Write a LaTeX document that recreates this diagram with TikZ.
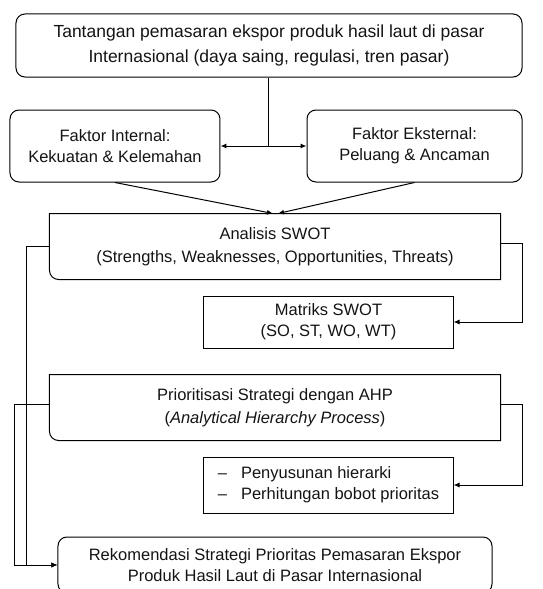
\documentclass[tikz,border=0pt]{standalone}
\usepackage{fontspec}
\setmainfont{Liberation Sans}
\usetikzlibrary{arrows.meta,positioning}

% frame with only two rounded corners (top left, bottom right)
\newcommand{\diagframe}[1]{%
  \draw (#1.north) [sharp corners] -- (#1.north east) -- (#1.south east)
    [rounded corners=9pt] -- (#1.south west)
    [sharp corners] -- (#1.north west)
    [rounded corners=9pt] -- (#1.north);}

\begin{document}
\begin{tikzpicture}[x=1pt,y=1pt,line width=1pt,on grid,
    font=\fontsize{16.5}{21}\selectfont,
    box/.style={align=center,inner sep=0pt,text=black!92},
    roundbox/.style={box,draw,rounded corners=9pt},
    plainbox/.style={box,draw,minimum width=249pt},
    halfbox/.style={box,minimum width=450pt,minimum height=65pt},
    link/.style={-{Latex[length=6pt,width=5pt]}}]
   \clip (-269,45.5) rectangle (274,-543.5);
   \node [roundbox,minimum width=506pt,minimum height=63pt,
          font=\fontsize{17.5}{25}\selectfont] (Tantangan)
         {Tantangan pemasaran ekspor produk hasil laut di pasar\\Internasional (daya saing, regulasi, tren pasar)};
   \node [roundbox,minimum width=210pt,minimum height=72pt] (Internal)
         [below left=100.5pt and 154pt of Tantangan] {Faktor Internal:\\Kekuatan \& Kelemahan};
   \node [roundbox,minimum width=215pt,minimum height=72pt] (Eksternal)
         [below right=100.5pt and 145.5pt of Tantangan] {Faktor Eksternal:\\Peluang \& Ancaman};
   \node [halfbox,font=\fontsize{16.5}{23}\selectfont] (SWOT)
         [below right=201pt and 6pt of Tantangan] {Analisis SWOT\\(Strengths, Weaknesses, Opportunities, Threats)};
   \node [plainbox,minimum height=52pt] (Matriks)
         [below right=75.5pt and 53.5pt of SWOT] {Matriks SWOT\\(SO, ST, WO, WT)};
   \node [halfbox,font=\fontsize{16.5}{23}\selectfont] (AHP)
         [below=161pt of SWOT] {Prioritisasi Strategi dengan AHP\\(\textit{Analytical Hierarchy Process})};
   \node [plainbox,minimum height=56pt] (Langkah)
         [below right=77.5pt and 53.5pt of AHP]
         {\begin{tabular}{@{}l@{\hspace{14pt}}l@{}}
            -- & Penyusunan hierarki\\
            -- & Perhitungan bobot prioritas
          \end{tabular}};
   \node [roundbox,minimum width=434pt,minimum height=56pt] (Rekomendasi)
         [below=157.5pt of AHP] {Rekomendasi Strategi Prioritas Pemasaran Ekspor\\Produk Hasil Laut di Pasar Internasional};
   \diagframe{SWOT}
   \diagframe{AHP}

   \draw (Tantangan.south) -- (Tantangan.south |- Internal.east) coordinate (Split);
   \draw [link] (Split) -- (Internal.east);
   \draw [link] (Split) -- (Eksternal.west);
   \draw [link] (Internal.south) -- ([xshift=-2pt]SWOT.north);
   \draw [link] (Eksternal.south) -- ([xshift=3pt]SWOT.north);
   \draw [link] ([yshift=3pt]SWOT.east) -- ++(22pt,0) |- (Matriks.east);
   \draw [link] ([yshift=3pt]AHP.east) -- ++(22pt,0) |- (Langkah.east);
   \draw [link] (SWOT.west) -- ++(-23pt,0) |- (Rekomendasi.west);
   \draw [link] ([yshift=3pt]AHP.west) -- ++(-35pt,0) |- (Rekomendasi.west);
\end{tikzpicture}
\end{document}
